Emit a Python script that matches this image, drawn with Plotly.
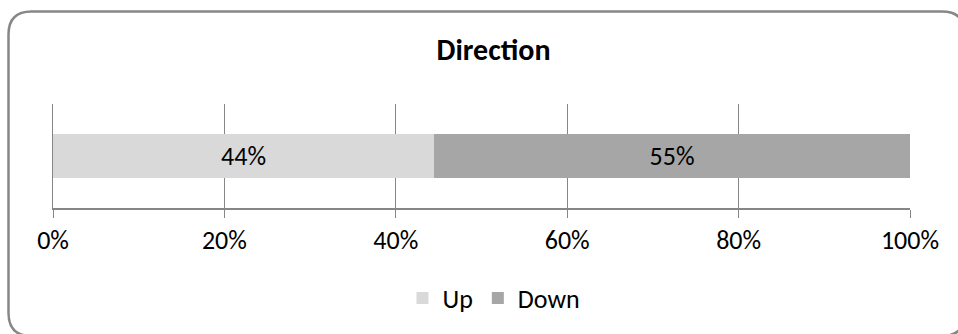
import plotly.graph_objects as go

# Data
category = ["Direction"]
series_names = ["Up", "Down"]
up_values = [44]
down_values = [55]
series_colors = ["#D9D9D9", "#A6A6A6"]
tick_vals = [0, 20, 40, 60, 80, 100]
tick_text = ["0%", "20%", "40%", "60%", "80%", "100%"]

FONT = "Carlito, Lato, Open Sans, sans-serif"
W, H = 958, 334
L, R, T, B = 53, 910, 104, 208  # plot area in px


def px(x):
    return (x - L) / (R - L)


def py(y):
    return (B - y) / (B - T)


fig = go.Figure()
for name, vals, col in [(series_names[0], up_values, series_colors[0]),
                        (series_names[1], down_values, series_colors[1])]:
    fig.add_trace(go.Bar(
        name=name, x=vals, y=category, orientation="h",
        marker=dict(color=col, line=dict(width=0)),
        text=[f"{v}%" for v in vals], textposition="inside",
        insidetextanchor="middle",
        textfont=dict(family=FONT, size=26, color="#000000"),
        width=0.43,
    ))

# rounded border
x0, y0, x1, y1, r = 8.5, 11.5, 965, 336, 23
path = (f"M {px(x0)},{py(y0 + r)} Q {px(x0)},{py(y0)} {px(x0 + r)},{py(y0)} "
        f"L {px(x1 - r)},{py(y0)} Q {px(x1)},{py(y0)} {px(x1)},{py(y0 + r)} "
        f"L {px(x1)},{py(y1 - r)} Q {px(x1)},{py(y1)} {px(x1 - r)},{py(y1)} "
        f"L {px(x0 + r)},{py(y1)} Q {px(x0)},{py(y1)} {px(x0)},{py(y1 - r)} Z")

fig.update_layout(
    width=W, height=H,
    margin=dict(l=L, r=W - R, t=T, b=H - B),
    paper_bgcolor="white", plot_bgcolor="white",
    barmode="stack", barnorm="percent",
    bargap=0,
    showlegend=True,
    title=dict(text="<b>Direction</b>", x=px(493.5), xref="paper", xanchor="center",
               y=1 - 49 / H, yref="container", yanchor="middle",
               font=dict(family=FONT, size=30, color="#000000")),
    legend=dict(orientation="h", x=px(494), xanchor="center", y=py(298), yanchor="middle",
                font=dict(family=FONT, size=26, color="#000000"),
                traceorder="normal", itemwidth=30, bgcolor="rgba(0,0,0,0)"),
    xaxis=dict(range=[0, 100], tickvals=tick_vals, ticktext=tick_text,
               showgrid=True, gridcolor="#868686", gridwidth=1,
               showline=True, linecolor="#868686", linewidth=2,
               ticks="outside", ticklen=8, tickcolor="#868686", tickwidth=1,
               tickfont=dict(family=FONT, size=26, color="#000000"),
               zeroline=False, fixedrange=True),
    yaxis=dict(showticklabels=False, showline=True, linecolor="#868686", linewidth=1,
               showgrid=False, zeroline=False, range=[-0.5, 0.5], fixedrange=True),
    shapes=[dict(type="path", xref="paper", yref="paper", path=path,
                 line=dict(color="#878787", width=2.5), layer="above")],
)

fig.write_html("out.html")
